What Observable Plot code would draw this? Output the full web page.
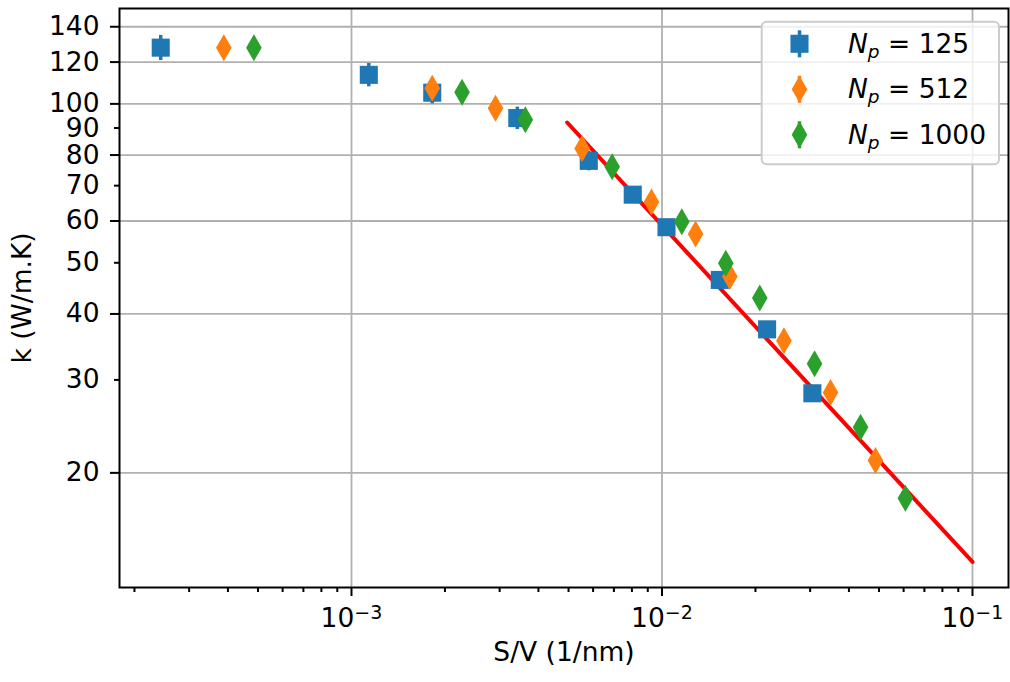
<!DOCTYPE html>
<html>
<head>
<meta charset="utf-8">
<script src="https://cdn.jsdelivr.net/npm/d3@7"></script>
<script src="https://cdn.jsdelivr.net/npm/@observablehq/plot@0.6"></script>
<style>
  html, body { margin: 0; padding: 0; background: #fff; }
  svg { display: block; }
</style>
</head>
<body>
<div id="chart"></div>
<script>
// ---- Data ----
const sv125 = [2.43e-4, 1.137e-3, 1.82e-3, 3.42e-3, 5.81e-3, 8.05e-3, 1.034e-2, 1.535e-2, 2.18e-2, 3.05e-2];
const k125  = [127.8, 113.5, 105.0, 94.0, 78.0, 67.3, 58.4, 46.4, 37.4, 28.3];
const err125 = [7.0, 5.8, 5.0, 4.6, 3.3, 2.0, 1.5, 1.2, 1.0, 0.8];

const sv512 = [3.88e-4, 1.82e-3, 2.91e-3, 5.53e-3, 9.25e-3, 1.283e-2, 1.654e-2, 2.47e-2, 3.49e-2, 4.87e-2];
const k512  = [127.8, 107.1, 98.1, 82.3, 65.2, 56.7, 47.1, 35.6, 28.4, 21.1];
const err512 = [5.0, 4.5, 4.0, 3.3, 2.5, 2.0, 1.6, 1.2, 1.0, 0.8];

const sv1000 = [4.85e-4, 2.27e-3, 3.63e-3, 6.91e-3, 1.158e-2, 1.605e-2, 2.065e-2, 3.10e-2, 4.36e-2, 6.08e-2];
const k1000  = [127.8, 105.2, 93.3, 76.0, 59.8, 49.9, 42.9, 32.2, 24.4, 17.9];
const err1000 = [5.0, 4.0, 3.6, 3.0, 2.3, 1.9, 1.6, 1.2, 0.9, 0.7];

// fitted power-law line (end points)
const fitSV = [4.95e-3, 0.1];
const fitK  = [92.2, 13.56];

const seriesLabels = ["125", "512", "1000"];
const yMajorTicks = [20, 40, 60, 80, 100, 120, 140];
const yMinorTicks = [30, 50, 70, 90];
const xMajorTicks = [1e-3, 1e-2, 1e-1];
const xMinorTicks = [2e-4,3e-4,4e-4,5e-4,6e-4,7e-4,8e-4,9e-4,
                     2e-3,3e-3,4e-3,5e-3,6e-3,7e-3,8e-3,9e-3,
                     2e-2,3e-2,4e-2,5e-2,6e-2,7e-2,8e-2,9e-2];
const xLabel = "S/V (1/nm)";
const yLabel = "k (W/m.K)";

// ---- Build ----
const blue = "#1f77b4", orange = "#ff7f0e", green = "#2ca02c";
const FONT = "'DejaVu Sans', 'Liberation Sans', sans-serif";
const FS = 26.5;

const rows = (sv, k, e) => sv.map((x, i) => ({x, k: k[i], e: e[i]}));
const d125 = rows(sv125, k125, err125);
const d512 = rows(sv512, k512, err512);
const d1000 = rows(sv1000, k1000, err1000);
const fit = fitSV.map((x, i) => ({x, k: fitK[i]}));

const SQ_R = 10.2, DI_R = 8.2;

const errMark = (data, color) => Plot.ruleX(data, {x: "x", y1: d => d.k - d.e, y2: d => d.k + d.e, stroke: color, strokeWidth: 3.5});
const dotMark = (data, color, sym, r) => Plot.dot(data, {x: "x", y: "k", fill: color, symbol: sym, r});

const chart = Plot.plot({
  width: 1010, height: 682,
  marginLeft: 119, marginRight: 2, marginTop: 8, marginBottom: 95,
  style: {fontFamily: FONT, fontSize: FS + "px", background: "#fff", color: "#000", overflow: "visible"},
  x: {type: "log", domain: [1.79e-4, 0.1306]},
  y: {type: "log", domain: [12.13, 151.6]},
  marks: [
    Plot.ruleY(yMajorTicks, {stroke: "#b0b0b0", strokeWidth: 1.8}),
    Plot.ruleX(xMajorTicks, {stroke: "#b0b0b0", strokeWidth: 1.8}),
    Plot.line(fit, {x: "x", y: "k", stroke: "#ff0000", strokeWidth: 4}),
    errMark(d125, blue), dotMark(d125, blue, "square", SQ_R),
    errMark(d512, orange), dotMark(d512, orange, "diamond", DI_R),
    errMark(d1000, green), dotMark(d1000, green, "diamond", DI_R),
    Plot.frame({stroke: "#000", strokeWidth: 2}),
    Plot.axisY(yMajorTicks, {tickSize: 9, tickPadding: 11, tickFormat: d => String(d), label: null, strokeWidth: 2, fontSize: FS}),
    Plot.axisY(yMinorTicks, {tickSize: 5, tickPadding: 15, tickFormat: d => String(d), label: null, strokeWidth: 2, fontSize: FS}),
    Plot.axisX(xMajorTicks, {tickSize: 9, tickPadding: 12, tickFormat: d => "10^" + Math.round(Math.log10(d)), label: null, strokeWidth: 2, fontSize: FS}),
    Plot.axisX(xMinorTicks, {tickSize: 5, tickFormat: () => "", label: null, strokeWidth: 2}),
    Plot.text([xLabel], {text: d => d, frameAnchor: "bottom", textAnchor: "middle", dy: 73, fontSize: FS}),
    Plot.text([yLabel], {text: d => d, frameAnchor: "left", textAnchor: "middle", rotate: -90, dx: -97, fontSize: FS})
  ]
});

const svg = d3.select(chart);

// superscript exponents on x tick labels
svg.selectAll('g[aria-label="x-axis tick label"] text').each(function () {
  const t = this.textContent;
  const m = t.match(/^10\^(-?\d+)$/);
  if (!m) return;
  const el = d3.select(this);
  el.text("");
  el.append("tspan").text("10");
  el.append("tspan").attr("dy", -8).attr("font-size", 19).text(m[1].replace("-", "\u2212"));
});

// legend
const lg = svg.append("g").attr("font-family", FONT).attr("font-size", FS).attr("text-anchor", "start");
lg.append("rect")
  .attr("x", 761.7).attr("y", 21.7).attr("width", 237.3).attr("height", 142.6).attr("rx", 5)
  .attr("fill", "#fff").attr("fill-opacity", 0.8)
  .attr("stroke", "#cccccc").attr("stroke-width", 2);
const legendItems = [
  {label: seriesLabels[0], color: blue, sym: d3.symbolSquare, r: SQ_R},
  {label: seriesLabels[1], color: orange, sym: d3.symbolDiamond, r: DI_R},
  {label: seriesLabels[2], color: green, sym: d3.symbolDiamond, r: DI_R}
];
legendItems.forEach((it, i) => {
  const cy = 43.8 + i * 45.5;
  lg.append("line").attr("x1", 799.5).attr("x2", 799.5).attr("y1", cy - 13.5).attr("y2", cy + 13.5)
    .attr("stroke", it.color).attr("stroke-width", 3.5);
  lg.append("path").attr("d", d3.symbol(it.sym, it.r * it.r * Math.PI)())
    .attr("transform", `translate(799.5,${cy})`).attr("fill", it.color);
  const t = lg.append("text").attr("x", 848).attr("y", cy + 8.8).attr("fill", "#000")
    .attr("text-anchor", "start").style("white-space", "pre");
  t.append("tspan").attr("font-style", "italic").text("N");
  t.append("tspan").attr("font-style", "italic").attr("font-size", 18.5).attr("dy", 5).text("p");
  t.append("tspan").attr("dy", -5).text(" = " + it.label);
});

document.getElementById("chart").appendChild(chart);
</script>
</body>
</html>
